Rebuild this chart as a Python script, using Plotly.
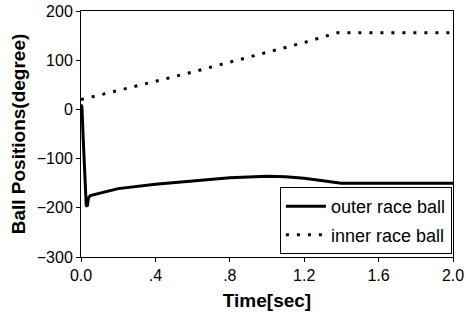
import plotly.graph_objects as go

# Data
outer_t = [0.0, 0.005, 0.012, 0.02, 0.028, 0.034, 0.04, 0.05, 0.1, 0.2, 0.4, 0.6, 0.8, 1.0, 1.1, 1.2, 1.3, 1.38, 1.4, 1.6, 1.8, 2.0]
outer_v = [10, 5, -60, -150, -195, -197, -180, -175, -170, -161, -152, -145, -139, -136, -137, -140, -145, -150, -150, -150, -150, -150]
inner_t = [0.0, 0.2, 0.4, 0.6, 0.8, 1.0, 1.2, 1.38, 1.6, 1.8, 2.0]
inner_v = [20, 38, 57, 76, 96, 116, 136, 156, 156, 156, 156]

x_tickvals = [0.0, 0.4, 0.8, 1.2, 1.6, 2.0]
x_ticktext = ["0.0", ".4", ".8", "1.2", "1.6", "2.0"]
y_tickvals = [200, 100, 0, -100, -200, -300]

fig = go.Figure()
fig.add_trace(go.Scatter(x=outer_t, y=outer_v, mode="lines", name="outer race ball",
                         legendgroup="a",
                         line=dict(color="black", width=3)))
fig.add_trace(go.Scatter(x=inner_t, y=inner_v, mode="lines", name="inner race ball",
                         legendgroup="b",
                         line=dict(color="black", width=3, dash="3px,8px")))

font = "Liberation Sans, Arial, sans-serif"
fig.update_layout(
    width=466, height=321,
    margin=dict(l=81, r=13, t=11, b=64),
    paper_bgcolor="white", plot_bgcolor="white",
    font=dict(family=font, size=16, color="black"),
    showlegend=True,
    legend=dict(x=0.997, y=0.012, xanchor="right", yanchor="bottom",
                bordercolor="black", borderwidth=1, bgcolor="white",
                font=dict(size=18), traceorder="grouped", tracegroupgap=2, itemwidth=40),
    xaxis=dict(range=[0, 2.0], tickvals=x_tickvals, ticktext=x_ticktext, automargin=False,
               showgrid=False, zeroline=False, showline=True, linecolor="black",
               linewidth=1, mirror=True, ticks="outside", ticklen=4, tickcolor="black",
               title=dict(text="<b>Time[sec]</b>", font=dict(size=19), standoff=10)),
    yaxis=dict(range=[-300, 200], tickvals=y_tickvals, automargin=False,
               showgrid=False, zeroline=False, showline=True, linecolor="black",
               linewidth=1, mirror=True, ticks="outside", ticklen=4, tickcolor="black",
               title=dict(text="<b>Ball Positions(degree)</b>", font=dict(size=19), standoff=6)),
)

fig.write_html("out.html")
